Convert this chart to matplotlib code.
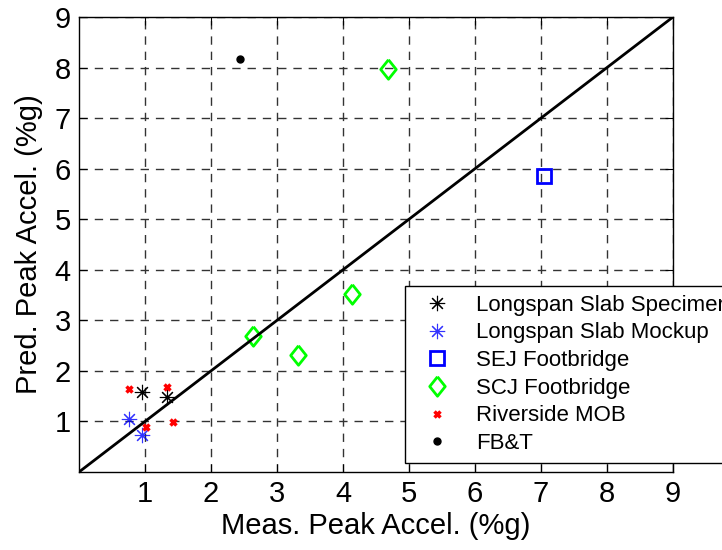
import numpy as np
import matplotlib
matplotlib.use('Agg')
import matplotlib.pyplot as plt

plt.rcParams['font.family'] = ['Liberation Sans', 'DejaVu Sans']

slab_spec_x = [0.96, 1.34]
slab_spec_y = [1.58, 1.49]
slab_mock_x = [0.76, 0.95]
slab_mock_y = [1.05, 0.73]
sej_x = [7.05]
sej_y = [5.86]
scj_x = [4.68, 4.13, 2.63, 3.32]
scj_y = [7.98, 3.53, 2.69, 2.31]
mob_x = [0.76, 1.33, 1.02, 1.43]
mob_y = [1.65, 1.69, 0.90, 0.98]
fbt_x = [2.44]
fbt_y = [8.16]

ticks = [1, 2, 3, 4, 5, 6, 7, 8, 9]

fig = plt.figure(figsize=(7.22, 5.5), dpi=100)
ax = fig.add_axes([79/722, 78/550, 594/722, 455/550])

asterisk = (8, 2, 0)
diamond = [(0, 1), (0.8, 0), (0, -1), (-0.8, 0), (0, 1)]

ax.plot(slab_spec_x, slab_spec_y, ls='none', marker=asterisk, ms=11, mew=0.8, color='k', label='Longspan Slab Specimen')
ax.plot(slab_mock_x, slab_mock_y, ls='none', marker=asterisk, ms=11, mew=0.8, color='b', alpha=0.8, label='Longspan Slab Mockup')
ax.plot(sej_x, sej_y, ls='none', marker='s', ms=10, mew=2, mfc='none', mec='b', label='SEJ Footbridge')
ax.plot(scj_x, scj_y, ls='none', marker=diamond, ms=14, mew=2, mfc='none', mec=(0, 1, 0), label='SCJ Footbridge')
ax.plot(mob_x, mob_y, ls='none', marker='x', ms=5, mew=2.5, color='r', label='Riverside MOB')
ax.plot(fbt_x, fbt_y, ls='none', marker='o', ms=5, color='k', label='FB&T')

ax.plot([0, 9], [0, 9], color='k', lw=2)

ax.set_xlim(0, 9)
ax.set_ylim(0, 9)
ax.set_xticks(ticks)
ax.set_yticks(ticks)
ax.grid(True, color='#333333', ls=(0, (6, 5)), lw=1)
ax.tick_params(direction='in', top=True, right=True, length=6, labelsize=21, pad=6)
for s in ax.spines.values():
    s.set_linewidth(1)

ax.set_xlabel('Meas. Peak Accel. (%g)', fontsize=21, labelpad=3)
ax.set_ylabel('Pred. Peak Accel. (%g)', fontsize=21, labelpad=8)

leg = ax.legend(loc='lower left', bbox_to_anchor=(405/722, 87/550), bbox_transform=fig.transFigure,
                fontsize=16, fancybox=False, framealpha=1, edgecolor='k', borderpad=0.4,
                labelspacing=0.3, handlelength=2.1, handletextpad=0.7, borderaxespad=0)
leg.get_frame().set_linewidth(1)

fig.savefig('out.png', dpi=100)
